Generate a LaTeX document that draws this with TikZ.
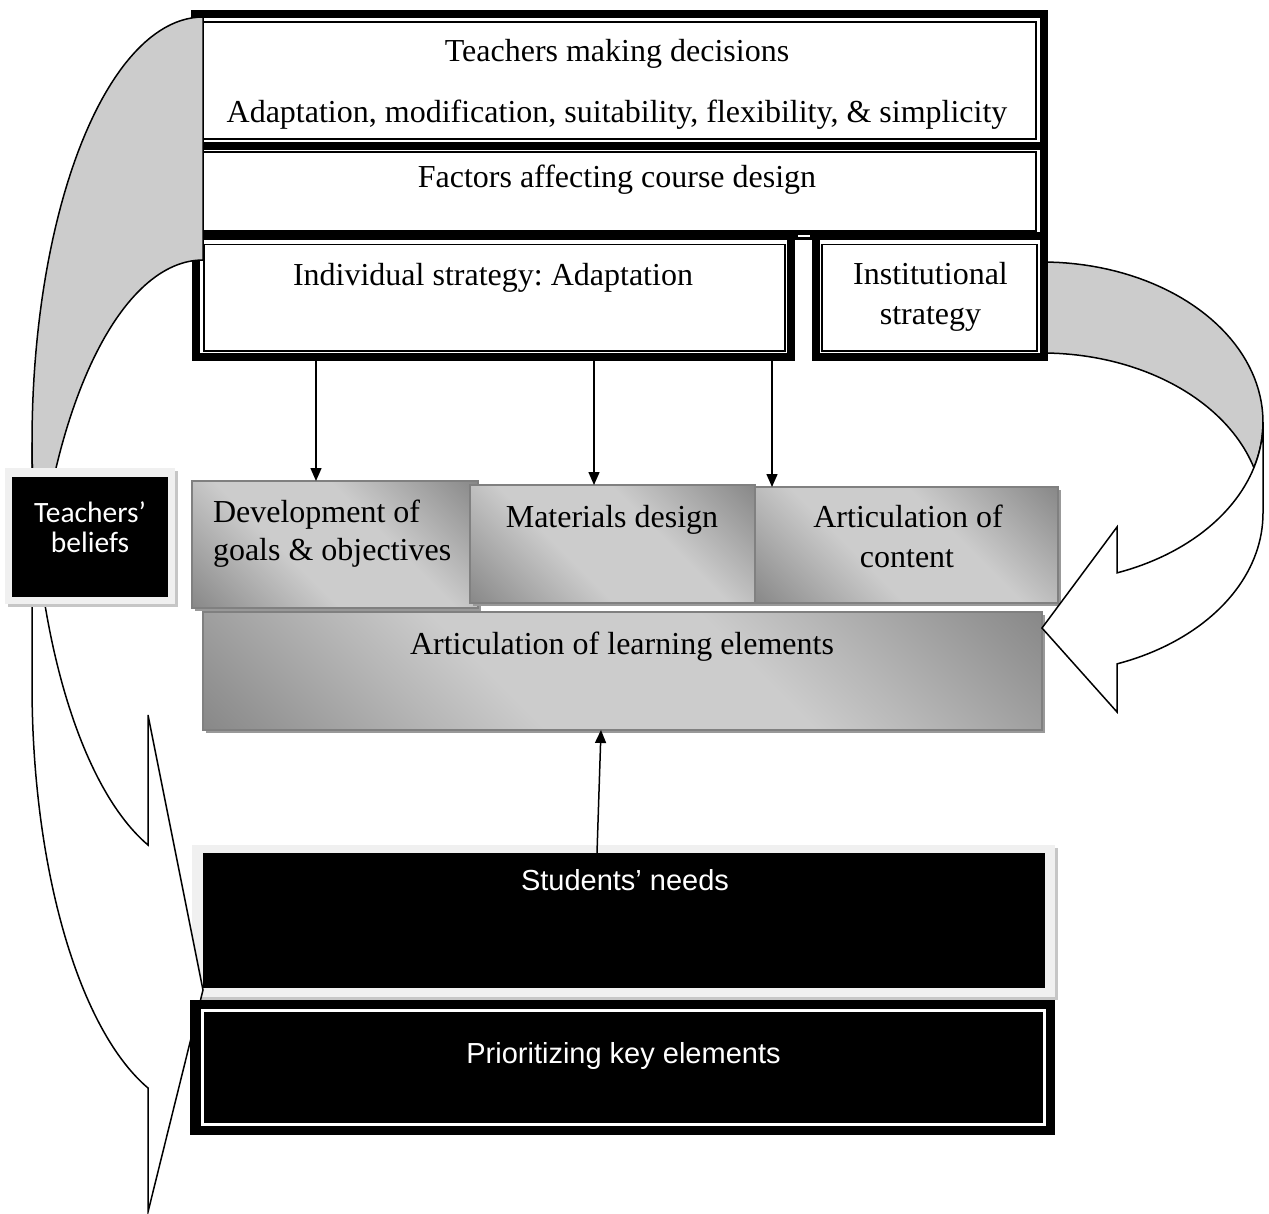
\documentclass[tikz,border=0pt]{standalone}
\usepackage{fontspec}
\setmainfont{Liberation Serif}
\newfontfamily\arialf{Liberation Sans}
\newfontfamily\calf{Carlito}
\usetikzlibrary{arrows.meta,shadows}
\frenchspacing
\definecolor{gdark}{gray}{0.38}
\definecolor{glight}{gray}{0.80}
\definecolor{gborder}{gray}{0.50}
\definecolor{gshadow}{gray}{0.60}
\definecolor{arrowgray}{gray}{0.80}
\definecolor{frameg}{gray}{0.94}
\pgfdeclarehorizontalshading{wordgrad}{100bp}{color(0bp)=(gdark); color(40bp)=(glight); color(60bp)=(glight); color(100bp)=(gdark)}
\tikzset{
  box/.style={rectangle, inner sep=0pt, outer sep=0pt},
  thickframe/.style={box, draw=black, line width=8pt},
  thinframe/.style={box, draw=black, line width=1.8pt},
  gradbox/.style={box, shading=wordgrad, shading angle=45, draw=gborder, line width=1.5pt,
    drop shadow={opacity=1, fill=gshadow, shadow xshift=3pt, shadow yshift=-3pt}},
  lightframe/.style={box, fill=frameg,
    drop shadow={opacity=1, fill=gray!45, shadow xshift=3pt, shadow yshift=-3pt}},
  blackbox/.style={box, fill=black},
  txt/.style={inner sep=0pt, outer sep=0pt, font=\fontsize{32}{38}\selectfont, anchor=base},
  stxt/.style={inner sep=0pt, outer sep=0pt, font=\arialf\fontsize{29}{35}\selectfont, text=white, anchor=base},
  ctxt/.style={inner sep=0pt, outer sep=0pt, font=\calf\fontsize{29.5}{31}\selectfont, text=white, anchor=base},
  conn/.style={line width=1.5pt, -{Triangle[length=13pt,width=11pt]}},
  curvearrow/.style={draw=black, line width=1.5pt, line join=miter},
}
\begin{document}
\begin{tikzpicture}[x=1pt,y=-1pt]
\fill[white] (0,0) rectangle (1269,1214);
\useasboundingbox (0,0) rectangle (1269,1214);

% right curved arrow, grey back part (behind the frames)
\draw[curvearrow, fill=arrowgray]
  plot[domain=-90:16.5, samples=50] ({1042+221*cos(\x)},{422.2+160.2*sin(\x)})
  -- plot[domain=-16.5:-90, samples=50] ({1042+221*cos(\x)},{513.2+160.2*sin(\x)})
  -- cycle;

% top boxes
\node[thickframe, fill=white, minimum width=849pt, minimum height=132pt] (f1) at (619.5,80) {};
\node[thickframe, fill=white, minimum width=849pt, minimum height=90.5pt] (f2) at (619.5,191.25) {};
\node[thickframe, fill=white, minimum width=595pt, minimum height=121pt] (f3) at (493.5,297) {};
\node[thickframe, fill=white, minimum width=228.5pt, minimum height=121pt] (f4) at (929.75,297) {};
\fill[white] (798,235.5) rectangle (810,237.5);
\node[thinframe, minimum width=833pt, minimum height=117pt] (i1) at (619.5,80.5) {};
\node[thinframe, minimum width=833pt, minimum height=79pt] (i2) at (619.5,191.5) {};
\node[thinframe, minimum width=581pt, minimum height=106.5pt] (i3) at (494.5,297.75) {};
\node[thinframe, minimum width=215pt, minimum height=106.5pt] (i4) at (929.5,297.75) {};

\node[txt] (tmd) at (617,62) {Teachers making decisions};
\node[txt] (amsf) at (617,123) {Adaptation, modification, suitability, flexibility, \& simplicity};
\node[txt] (fac) at (617,188) {Factors affecting course design};
\node[txt] (ind) at (493,286) {Individual strategy: Adaptation};
\node[txt] (inst1) at (930.5,285) {Institutional};
\node[txt] (inst2) at (930.5,325) {strategy};

% left curved arrow, grey back part (over the frames)
\draw[curvearrow, fill=arrowgray]
  plot[domain=270:163.4, samples=60] ({203+171*cos(\x)},{442.3+425.3*sin(\x)})
  -- plot[domain=196.6:270, samples=60] ({203+171*cos(\x)},{685.3+425.3*sin(\x)})
  -- cycle;

% gradient boxes
\node[gradbox, minimum width=286pt, minimum height=127pt] (dev) at (335,544.5) {};
\node[gradbox, minimum width=285pt, minimum height=118pt] (mat) at (612.5,544) {};
\node[gradbox, minimum width=303pt, minimum height=116pt] (art) at (906.5,545) {};
\node[gradbox, minimum width=839pt, minimum height=118pt] (ale) at (622.5,671) {};
\node[txt, anchor=base west] (dev1) at (213,522) {Development of};
\node[txt, anchor=base west] (dev2) at (213,560) {goals \& objectives};
\node[txt] (mat1) at (612,527) {Materials design};
\node[txt] (art1) at (908,527) {Articulation of};
\node[txt] (art2) at (907,567) {content};
\node[txt] (ale1) at (622,654) {Articulation of learning elements};

% right curved arrow, white front part
\draw[curvearrow, fill=white] (1263,422.2)
  -- plot[domain=0:70.16, samples=40] ({1042+221*cos(\x)},{422.2+160.2*sin(\x)})
  -- (1117,527) -- (1042,628) -- (1117,712)
  -- plot[domain=70.16:0, samples=40] ({1042+221*cos(\x)},{513.2+160.2*sin(\x)})
  -- cycle;

% students' needs
\node[lightframe, minimum width=863pt, minimum height=152pt] (snf) at (623.5,921) {};
\node[blackbox, minimum width=842pt, minimum height=135pt] (sn) at (624,920.5) {};
\node[stxt] (sn1) at (625,890) {Students’ needs};

% left curved arrow, white front part
\draw[curvearrow, fill=white] (32,442.3)
  -- plot[domain=180:108.76, samples=60] ({203+171*cos(\x)},{442.3+425.3*sin(\x)})
  -- (148,715) -- (203,990) -- (148,1212)
  -- plot[domain=108.76:180, samples=60] ({203+171*cos(\x)},{685.3+425.3*sin(\x)})
  -- cycle;

% prioritizing
\node[blackbox, minimum width=865pt, minimum height=135pt] (pkf) at (622.5,1067.5) {};
\node[box, draw=white, line width=3pt, minimum width=842pt, minimum height=114pt] (pk) at (623,1067) {};
\node[stxt] (pk1) at (623.5,1063) {Prioritizing key elements};

% teachers' beliefs
\node[lightframe, minimum width=170pt, minimum height=136pt] (tbf) at (90,536) {};
\node[blackbox, minimum width=156pt, minimum height=120pt] (tb) at (90,537) {};
\node[ctxt] (tb1) at (90,522) {Teachers’};
\node[ctxt] (tb2) at (90,552) {beliefs};

% connectors
\coordinate (a1) at (316,0);
\coordinate (a2) at (594,0);
\coordinate (a3) at (772,0);
\coordinate (b1) at (597,0);
\coordinate (b2) at (601,0);
\draw[conn] (f3.south -| a1) -- (dev.north -| a1);
\draw[conn] (f3.south -| a2) -- (mat.north -| a2);
\draw[conn] (f3.south -| a3) -- (art.north -| a3);
\draw[conn] (sn.north -| b1) -- (ale.south -| b2);
\end{tikzpicture}
\end{document}
